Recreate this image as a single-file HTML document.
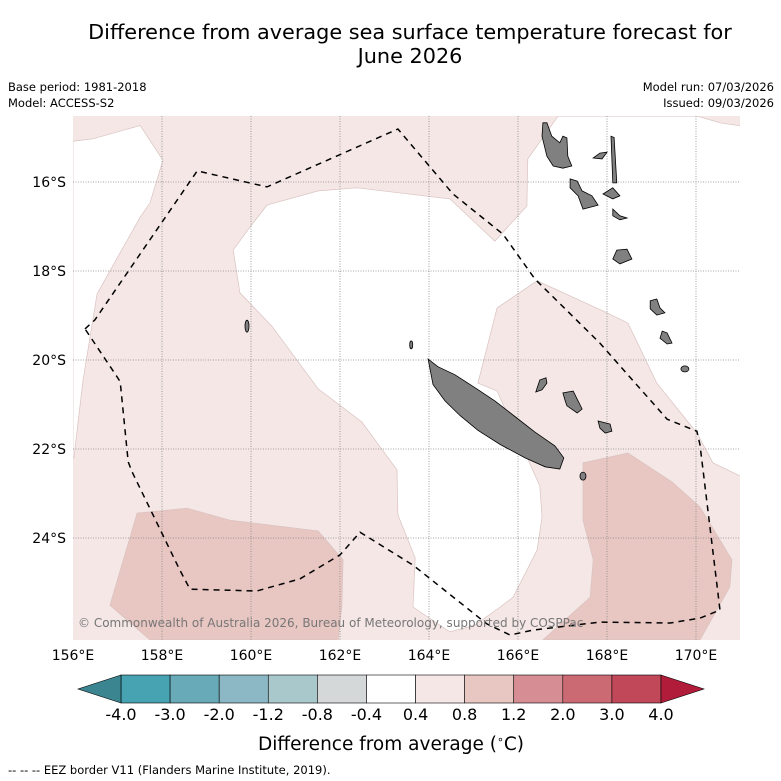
<!DOCTYPE html>
<html><head><meta charset="utf-8">
<style>
body{margin:0;background:#fff;width:781px;height:781px;overflow:hidden;font-family:"Liberation Sans","DejaVu Sans",sans-serif;}
svg{position:absolute;left:0;top:0}
</style></head>
<body>
<svg id="chart" width="781" height="781" viewBox="0 0 781 781">
<text x="410" y="39" font-size="20.8" text-anchor="middle" font-family="DejaVu Sans, sans-serif">Difference from average sea surface temperature forecast for</text>
<text x="410" y="63" font-size="20.8" text-anchor="middle" font-family="DejaVu Sans, sans-serif">June 2026</text>
<text x="8" y="91" font-size="11.5" font-family="DejaVu Sans, sans-serif">Base period: 1981-2018</text>
<text x="8" y="107" font-size="11.5" font-family="DejaVu Sans, sans-serif">Model: ACCESS-S2</text>
<text x="774" y="91" font-size="11.5" text-anchor="end" font-family="DejaVu Sans, sans-serif">Model run: 07/03/2026</text>
<text x="774" y="107" font-size="11.5" text-anchor="end" font-family="DejaVu Sans, sans-serif">Issued: 09/03/2026</text>
<g id="map"></g>
<g id="cbar"></g>
<text x="391" y="750" font-size="18.5" text-anchor="middle" font-family="DejaVu Sans, sans-serif">Difference from average (<tspan font-size="11" dy="-7">∘</tspan><tspan dy="7">C)</tspan></text>
<text x="8" y="774" font-size="11.5" font-family="DejaVu Sans, sans-serif">--  --  -- EEZ border V11 (Flanders Marine Institute, 2019).</text>
</svg>
<script>
const lonTicks=[156,158,160,162,164,166,168,170];
const latTicks=[16,18,20,22,24];
const cbBounds=[-4.0,-3.0,-2.0,-1.2,-0.8,-0.4,0.4,0.8,1.2,2.0,3.0,4.0];
const cbColors=["#47a3b1","#68aab8","#8bb8c4","#a9c8cb","#d4d8d9","#ffffff","#f5e7e6","#e8c6c2","#d68e94","#cc6a74","#c04858"];
const whiteTopLeft=[[156,15.08],[156.02,15.08],[156.45,15.03],[157.51,14.73],[158.02,15.51],[157.73,16.47],[157.51,16.79],[156.90,17.87],[156.54,18.52],[156.22,20.49],[156.02,22.20],[156,22.20]];
const whiteCentral=[[160.36,16.52],[161.51,16.20],[162.38,16.13],[164.47,16.38],[165.48,17.33],[166.20,16.54],[166.22,15.48],[166.90,14.52],[170.02,14.52],[170.54,14.67],[171,14.74],[171,22.61],[170.38,22.31],[170.02,21.64],[169.12,20.52],[168.47,19.17],[168.00,18.94],[166.43,18.22],[165.53,18.83],[165.10,20.52],[165.53,20.70],[166.49,22.83],[166.54,23.53],[166.43,24.27],[165.89,25.33],[165.60,25.55],[165.03,25.96],[164.47,26.11],[163.64,25.55],[163.69,24.45],[163.30,23.48],[163.28,22.47],[162.49,21.39],[161.51,20.65],[160.47,19.24],[159.75,18.49],[159.60,17.53],[159.98,17.01]];
const darkLeft=[[157.44,23.44],[158.56,23.33],[159.53,23.60],[161.51,23.84],[162.07,24.49],[162.04,25.55],[161.96,26.29],[157.73,26.29],[156.83,25.51]];
const darkRight=[[167.46,22.31],[168.47,22.09],[169.46,22.74],[170.09,23.30],[170.81,24.49],[170.76,25.10],[170.09,26.29],[166.56,26.29],[167.62,25.33],[167.69,24.49],[167.46,23.60]];
const eez=[[156.27,19.30],[156.49,19.10],[158.79,15.75],[160.36,16.11],[163.30,14.81],[164.54,16.27],[165.66,17.17],[166.38,18.18],[167.84,19.62],[169.35,21.33],[170.02,21.60],[170.09,21.91],[170.54,25.62],[170.09,25.80],[169.42,25.91],[167.84,25.89],[166.34,26.07],[165.82,26.18],[165.30,25.93],[163.64,24.61],[162.45,23.87],[162.00,24.38],[161.10,24.92],[160.13,25.19],[158.63,25.15],[158.40,24.72],[157.33,22.52],[157.24,22.29],[157.06,20.49],[156.99,20.38],[156.27,19.30]];
const islands=[
[[163.98,19.98],[164.20,20.15],[164.58,20.33],[165.03,20.62],[165.48,20.92],[165.93,21.27],[166.38,21.62],[166.83,21.93],[167.03,22.20],[166.94,22.45],[166.61,22.40],[166.16,22.20],[165.60,21.90],[165.10,21.58],[164.70,21.25],[164.36,20.92],[164.09,20.55]],
[[166.56,14.67],[166.65,14.67],[166.76,14.97],[166.94,15.12],[167.01,14.97],[167.10,15.01],[167.12,15.42],[167.21,15.64],[167.01,15.69],[166.79,15.64],[166.65,15.42],[166.54,14.97]],
[[167.17,15.93],[167.33,15.98],[167.44,16.20],[167.66,16.31],[167.80,16.52],[167.46,16.61],[167.35,16.31],[167.17,16.13]],
[[167.69,15.46],[167.84,15.35],[168.00,15.33],[167.89,15.48]],
[[168.09,14.97],[168.16,15.00],[168.22,16.02],[168.13,16.02]],
[[167.91,16.27],[168.13,16.13],[168.29,16.31],[168.13,16.38]],
[[168.13,16.61],[168.29,16.76],[168.45,16.81],[168.29,16.85],[168.13,16.76]],
[[168.22,17.53],[168.45,17.51],[168.56,17.73],[168.29,17.84],[168.13,17.73]],
[[168.97,18.67],[169.12,18.63],[169.19,18.83],[169.30,18.94],[169.12,18.99],[168.97,18.85]],
[[169.24,19.35],[169.35,19.39],[169.46,19.62],[169.35,19.64],[169.19,19.51]],
[[166.49,20.45],[166.63,20.40],[166.65,20.52],[166.54,20.67],[166.40,20.72]],
[[167.01,20.74],[167.24,20.70],[167.33,20.88],[167.44,21.10],[167.33,21.19],[167.10,21.03],[167.06,20.92]],
[[167.80,21.37],[168.07,21.44],[168.11,21.60],[167.96,21.64],[167.84,21.53]]];
const islets=[[169.75,20.20,4,3],[167.46,22.61,3,4],[159.91,19.24,2,6],[163.60,19.66,1.5,4]];

const NS="http://www.w3.org/2000/svg";
const X0=73,X1=740,Y0=116,Y1=640;
function xOf(lon){return 73+(lon-156)*44.5;}
function yOf(s){return 182+(s-16)*44.5;}
function mk(tag,attrs,parent){const e=document.createElementNS(NS,tag);for(const k in attrs)e.setAttribute(k,attrs[k]);parent.appendChild(e);return e;}
function pts(a){return a.map(p=>xOf(p[0]).toFixed(1)+","+yOf(p[1]).toFixed(1)).join(" ");}
const map=document.getElementById("map");
const bg=mk("rect",{x:X0,y:Y0,width:X1-X0,height:Y1-Y0,fill:"#f4e7e6"},map);


const defs=mk("clipPath",{id:"clip"},map);mk("rect",{x:X0,y:Y0,width:X1-X0,height:Y1-Y0},defs);
const g=mk("g",{"clip-path":"url(#clip)"},map);
const regions=[[whiteTopLeft,"#ffffff","white-region-west"],[whiteCentral,"#ffffff","white-region-central"],[darkLeft,"#e8c6c2","anomaly-region-sw"],[darkRight,"#e8c6c2","anomaly-region-se"]];
regions.forEach(r=>{const p=mk("polygon",{points:pts(r[0]),fill:r[1],stroke:"#d9c3c0","stroke-width":0.7},g);

});
lonTicks.forEach(l=>{if(l>156){const ln=mk("line",{x1:xOf(l),x2:xOf(l),y1:Y0,y2:Y1,stroke:"#888","stroke-width":0.8,"stroke-dasharray":"1,1.5"},g);

}
const t=mk("text",{x:xOf(l),y:660,"font-size":14,"text-anchor":"middle","font-family":"DejaVu Sans, sans-serif"},map);t.textContent=l+"°E";

});
latTicks.forEach(s=>{const ln=mk("line",{x1:X0,x2:X1,y1:yOf(s),y2:yOf(s),stroke:"#888","stroke-width":0.8,"stroke-dasharray":"1,1.5"},g);


const t=mk("text",{x:66,y:yOf(s)+5,"font-size":14,"text-anchor":"end","font-family":"DejaVu Sans, sans-serif"},map);t.textContent=s+"°S";

});
islands.forEach(a=>{const p=mk("polygon",{points:pts(a),fill:"#808080",stroke:"#000","stroke-width":0.8},g);

});
islets.forEach(a=>{const e=mk("ellipse",{cx:xOf(a[0]),cy:yOf(a[1]),rx:a[2],ry:a[3],fill:"#808080",stroke:"#000","stroke-width":0.8},g);

});
const ez=mk("polyline",{points:pts(eez),fill:"none",stroke:"#000","stroke-width":1.5,"stroke-dasharray":"6,5"},g);


const cp=mk("text",{x:78,y:627,"font-size":12,fill:"#777","font-family":"DejaVu Sans, sans-serif"},g);
cp.textContent="© Commonwealth of Australia 2026, Bureau of Meteorology, supported by COSPPac";



const cb=document.getElementById("cbar");
const CBX0=121,CBX1=661,CBY=675,CBH=28;
const segW=(CBX1-CBX0)/cbColors.length;
cbColors.forEach((c,i)=>{const r=mk("rect",{x:CBX0+i*segW,y:CBY,width:segW,height:CBH,fill:c,stroke:"#000","stroke-width":0.6},cb);

});
const lt=mk("polygon",{points:`${CBX0},${CBY} ${CBX0},${CBY+CBH} 78,${CBY+CBH/2}`,fill:"#3b8590",stroke:"#000","stroke-width":0.6},cb);


const rt=mk("polygon",{points:`${CBX1},${CBY} ${CBX1},${CBY+CBH} 704,${CBY+CBH/2}`,fill:"#b01c3a",stroke:"#000","stroke-width":0.6},cb);


cbBounds.forEach((b,i)=>{const t=mk("text",{x:CBX0+i*segW,y:720,"font-size":16,"text-anchor":"middle","font-family":"DejaVu Sans, sans-serif"},cb);
t.textContent=b.toFixed(1);

});
</script>
</body></html>
